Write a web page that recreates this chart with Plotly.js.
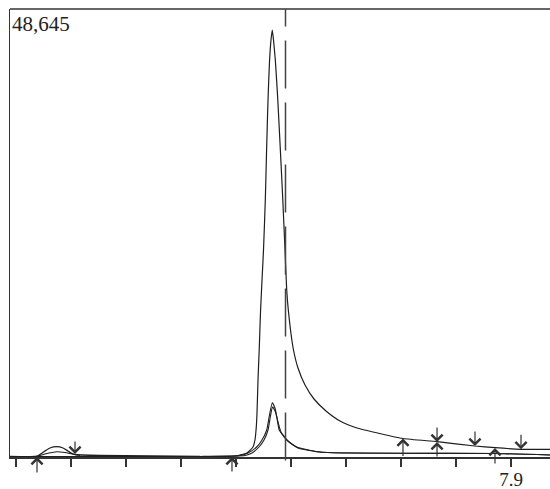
<!DOCTYPE html>
<html>
<head>
<meta charset="utf-8">
<script src="https://cdn.plot.ly/plotly-3.0.1.min.js"></script>
<style>html,body{margin:0;padding:0;background:#fff;}#chart{width:550px;height:489px;}</style>
</head>
<body>
<div id="chart"></div>
<script>
// ---- data (time in min, signal in counts) ----
var fullScale = 48645;
var xRange = [6.9891, 7.9709];

var mainTime = [6.9891, 7.3345, 7.3982, 7.4073, 7.4200, 7.4309, 7.4345, 7.4369, 7.4382, 7.4400, 7.4424, 7.4445, 7.4473, 7.4500, 7.4533, 7.4555, 7.4582, 7.4609, 7.4636, 7.4660, 7.4682, 7.4715, 7.4760, 7.4809, 7.4851, 7.4891, 7.4922, 7.4951, 7.4991, 7.5045, 7.5127, 7.5255, 7.5418, 7.5636, 7.5891, 7.6200, 7.6491, 7.7036, 7.7655, 7.8345, 7.8709, 7.9182, 7.9709];
var mainSignal = [54, 54, 109, 217, 434, 1086, 1846, 3257, 4778, 8361, 11944, 15636, 19219, 22476, 27905, 33008, 38763, 42889, 45278, 46364, 45278, 43106, 38763, 33008, 27905, 22476, 18133, 15961, 13790, 11618, 9664, 7818, 6298, 4995, 3909, 3149, 2715, 2009, 1661, 1194, 1010, 836, 836];

var peakATime = [7.3345, 7.4073, 7.4218, 7.4376, 7.4473, 7.4558, 7.4609, 7.4660, 7.4709, 7.4745, 7.4787, 7.4922, 7.5104, 7.5467, 7.5764, 7.6982, 7.8709, 7.9709];
var peakASignal = [54, 163, 434, 1086, 1846, 2932, 4560, 5896, 5320, 4235, 2932, 1846, 1086, 597, 467, 402, 380, 217];

var peakBTime = [7.3345, 7.4164, 7.4291, 7.4418, 7.4509, 7.4582, 7.4627, 7.4664, 7.4718, 7.4764, 7.4818, 7.4945, 7.5127, 7.5491, 7.5764, 7.6982, 7.8709, 7.9709];
var peakBSignal = [54, 163, 434, 1086, 1846, 2932, 4452, 5429, 4886, 3800, 2715, 1737, 977, 543, 467, 402, 380, 217];

var earlyATime = [6.9891, 7.0345, 7.0405, 7.0527, 7.0618, 7.0740, 7.0855, 7.0945, 7.1013, 7.1073, 7.1527, 7.3345];
var earlyASignal = [54, 54, 163, 651, 977, 1118, 977, 651, 402, 271, 163, 54];

var earlyBTime = [7.0405, 7.0527, 7.0740, 7.0891, 7.1018, 7.1164];
var earlyBSignal = [109, 326, 575, 489, 326, 163];

var markerTime = 7.49;

var tickValues = [7.0, 7.1, 7.2, 7.3, 7.4, 7.5, 7.6, 7.7, 7.8, 7.9];
var tickLabels = ['', '', '', '', '', '', '', '', '', '7.9'];

// integration event arrows: time, signal at head, direction (1 = up, -1 = down)
var arrowTime = [7.0382, 7.1073, 7.3927, 7.7036, 7.7655, 7.7655, 7.8345, 7.8709, 7.9182];
var arrowSignal = [0, 326, 0, 2009, 1629, 1629, 1194, 977, 836];
var arrowDir = [1, -1, 1, 1, -1, 1, -1, 1, -1];
var arrowLen = [17, 14, 16, 19, 16, 16, 16, 17, 16];

// ---- chart ----
var ink = '#1e1e1e';
function lineTrace(x, y, w, c) {
  return {x: x, y: y, type: 'scatter', mode: 'lines', line: {color: c || ink, width: w || 1.2, shape: 'spline', smoothing: 0.5}, hoverinfo: 'skip', showlegend: false, cliponaxis: false};
}
var traces = [
  lineTrace(earlyBTime, earlyBSignal, 1.1),
  lineTrace(earlyATime, earlyASignal, 1.3),
  lineTrace(peakBTime, peakBSignal, 1.1),
  lineTrace(peakATime, peakASignal, 1.1),
  lineTrace(mainTime, mainSignal, 1.2)
];

var annotations = [{
  xref: 'paper', yref: 'paper', x: 0, y: 1, xanchor: 'left', yanchor: 'top',
  xshift: 0, yshift: -1,
  text: fullScale.toLocaleString('en-US'), showarrow: false,
  font: {family: 'Liberation Serif, Times New Roman, serif', size: 21, color: '#222'}
}];
for (var i = 0; i < arrowTime.length; i++) {
  annotations.push({
    x: arrowTime[i], y: arrowSignal[i], xref: 'x', yref: 'y',
    text: '', showarrow: true, ax: 0, ay: arrowDir[i] * arrowLen[i],
    arrowhead: 4, arrowsize: 1.8, arrowwidth: 1.2, arrowcolor: '#333', standoff: 0
  });
}

var layout = {
  width: 550, height: 489,
  margin: {l: 10, r: 0, t: 9, b: 32, pad: 0},
  paper_bgcolor: '#fff', plot_bgcolor: '#fff',
  showlegend: false,
  xaxis: {
    range: xRange, showgrid: false, zeroline: false,
    showline: true, linecolor: '#333', linewidth: 1.5,
    ticks: 'outside', ticklen: 8, tickwidth: 1.3, tickcolor: '#333',
    tickmode: 'array', tickvals: tickValues, ticktext: tickLabels,
    ticklabelstandoff: -3,
    tickfont: {family: 'Liberation Serif, Times New Roman, serif', size: 19, color: '#222'}
  },
  yaxis: {
    range: [0, fullScale], showgrid: false, zeroline: false,
    showline: true, linecolor: '#333', linewidth: 1.5,
    showticklabels: false, ticks: ''
  },
  shapes: [
    {type: 'line', xref: 'paper', yref: 'paper', x0: 0, x1: 1, y0: 1, y1: 1, line: {color: '#333', width: 1.5}},
    {type: 'line', xref: 'x', yref: 'paper', x0: markerTime, x1: markerTime, y0: -0.008, y1: 1, line: {color: '#444', width: 1.5, dash: '48px,14px'}}
  ],
  annotations: annotations
};

Plotly.newPlot('chart', traces, layout, {staticPlot: true, displayModeBar: false});
</script>
</body>
</html>
